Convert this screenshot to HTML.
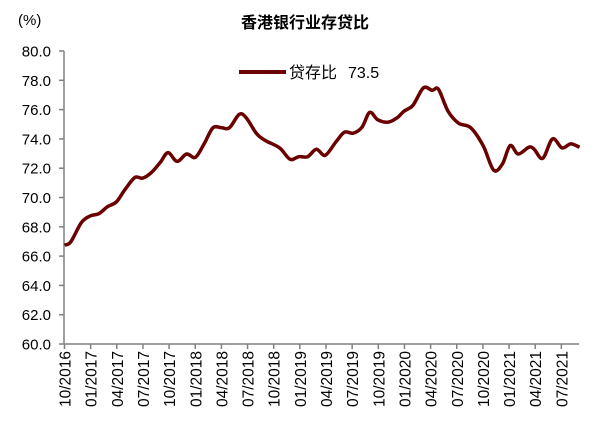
<!DOCTYPE html>
<html><head><meta charset="utf-8"><style>
body{margin:0;background:#fff;width:607px;height:435px;overflow:hidden}
text{font-family:"Liberation Sans","Noto Sans CJK SC",sans-serif;fill:#000}
</style></head><body>
<svg width="607" height="435" viewBox="0 0 607 435" xmlns="http://www.w3.org/2000/svg">
<text x="305" y="28" text-anchor="middle" font-size="16" font-weight="bold">香港银行业存贷比</text>
<text x="18" y="25" font-size="15">(%)</text>
<g id="yl" font-size="15" text-anchor="end"></g>
<g id="ax" stroke="#808080" stroke-width="1.5" fill="none"></g>
<g id="xl" font-size="15.5" text-anchor="end"></g>
<line x1="239" y1="72" x2="286" y2="72" stroke="#6b0000" stroke-width="4"/>
<text x="289" y="78" font-size="16">贷存比</text>
<text x="348" y="78" font-size="16">73.5</text>
<path id="ln" fill="none" stroke="#6b0000" stroke-width="3.5" stroke-linejoin="round"/>
</svg>
<script>
var ns="http://www.w3.org/2000/svg";
function el(t,a,p,tx){var e=document.createElementNS(ns,t);for(var k in a)e.setAttribute(k,a[k]);if(tx)e.textContent=tx;document.getElementById(p).appendChild(e);}
var y0=344,y1=51;
for(var i=0;i<=10;i++){var v=60+2*i,y=y0-(y0-y1)*i/10;
el("text",{x:51,y:y+5.5},"yl",v.toFixed(1));
el("line",{x1:59,y1:y,x2:64,y2:y},"ax");}
el("line",{x1:64,y1:y1,x2:64,y2:y0},"ax");
el("line",{x1:64,y1:y0,x2:579,y2:y0},"ax");
var labs=["10/2016","01/2017","04/2017","07/2017","10/2017","01/2018","04/2018","07/2018","10/2018","01/2019","04/2019","07/2019","10/2019","01/2020","04/2020","07/2020","10/2020","01/2021","04/2021","07/2021"];
for(var i=0;i<labs.length;i++){var x=64.5+i*26.15;
el("line",{x1:x,y1:y0,x2:x,y2:y0+5},"ax");
el("text",{x:0,y:0,transform:"translate("+(x+6)+",351) rotate(-90)"},"xl",labs[i]);}
var P=[[27,612],[45,602],[75,545],[100,525],[125,518],[150,497],[175,483],[200,445],[228,410],[250,412],[275,395],[300,365],[322,336],[348,362],[375,340],[400,350],[425,310],[450,262],[475,262],[497,262],[525,222],[545,232],[575,280],[600,300],[640,322],[670,356],[695,348],[720,348],[745,326],[770,344],[800,305],[825,275],[850,278],[875,260],[897,216],[920,238],[950,245],[975,232],[995,212],[1020,195],[1050,143],[1075,150],[1093,147],[1120,212],[1150,248],[1185,262],[1220,315],[1250,388],[1275,370],[1297,315],[1320,340],[1350,320],[1365,325],[1390,353],[1418,295],[1445,322],[1470,310],[1495,320]];
var p=P.map(function(a){return [55+a[0]/2.85,40+a[1]/2.983];});
var d="M"+p[0][0].toFixed(1)+","+p[0][1].toFixed(1);
for(var i=0;i<p.length-1;i++){var a=p[Math.max(0,i-1)],b=p[i],c=p[i+1],e=p[Math.min(p.length-1,i+2)];
var c1=[b[0]+(c[0]-a[0])/6,b[1]+(c[1]-a[1])/6],c2=[c[0]-(e[0]-b[0])/6,c[1]-(e[1]-b[1])/6];
d+=" C"+c1[0].toFixed(1)+","+c1[1].toFixed(1)+" "+c2[0].toFixed(1)+","+c2[1].toFixed(1)+" "+c[0].toFixed(1)+","+c[1].toFixed(1);}
document.getElementById("ln").setAttribute("d",d);
</script>
</body></html>
